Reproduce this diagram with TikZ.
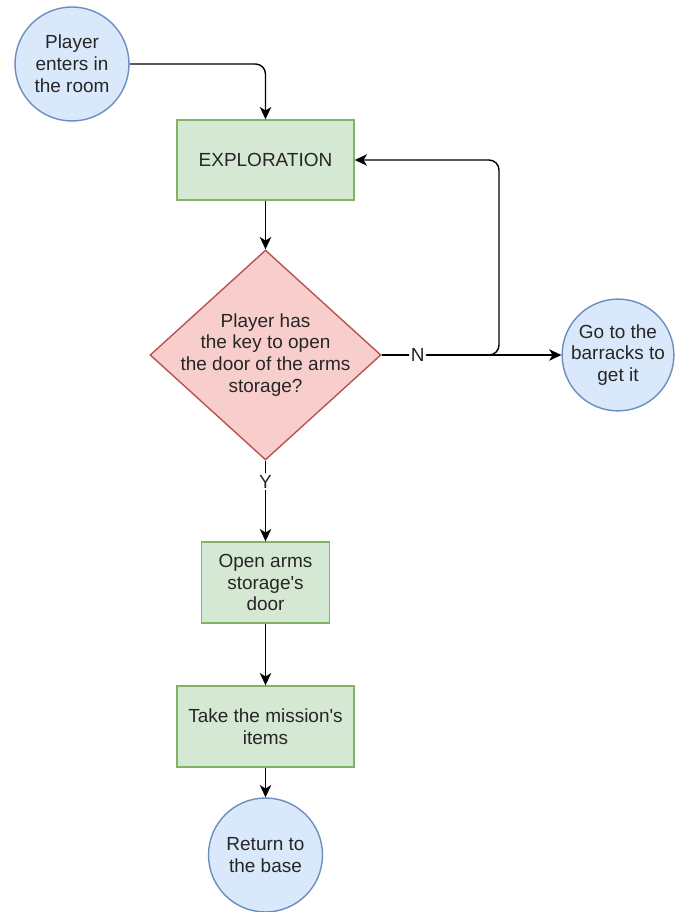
\documentclass[tikz,border=0pt]{standalone}
\usepackage{fontspec}
\setmainfont{Liberation Sans}
\usetikzlibrary{arrows.meta,shapes.geometric}

\definecolor{stepfill}{HTML}{D5E8D4}
\definecolor{stepline}{HTML}{82B366}
\definecolor{askfill}{HTML}{F8CECC}
\definecolor{askline}{HTML}{B85450}
\definecolor{endfill}{HTML}{DAE8FC}
\definecolor{endline}{HTML}{6C8EBF}

\tikzset{
    txt/.style={font=\fontsize{10.8}{12.45}\selectfont, text=black!85, align=center},
    stepbox/.style={txt, rectangle, draw=stepline, fill=stepfill, line width=0.8pt, inner sep=0pt},
    askbox/.style={txt, diamond, draw=askline, fill=askfill, line width=0.8pt, inner sep=-0.185cm, aspect=1.1,
                   minimum width=4.62cm, minimum height=4.2cm},
    endpoint/.style={txt, circle, draw=endline, fill=endfill, line width=0.8pt, inner sep=0pt},
    answer/.style={txt, fill=white, inner sep=1pt},
    link/.style={->, rounded corners=0.2cm}
}

\begin{document}
\begin{tikzpicture}[x=0.02cm, y=-0.02cm, >={Stealth[length=7pt, width=6.5pt, inset=2pt]}, line width=0.8pt]
    \useasboundingbox (0,0) rectangle (686,912);

    \node[endpoint, minimum size=2.28cm] (enter)    at (72,64)   {Player\\enters in\\the room};
    \node[stepbox, minimum width=3.54cm, minimum height=1.6cm] (explore) at (265.5,160) {EXPLORATION};
    \node[askbox]                        (haskey)   at (265.5,355) {Player has\\the key to open\\the door of the arms\\storage?};
    \node[endpoint, minimum size=2.16cm] (barracks) at (618,355) {Go to the\\barracks to\\get it};
    \node[stepbox, minimum width=2.56cm, minimum height=1.62cm] (open) at (265.5,582.5) {Open arms\\storage\textquotesingle s\\door};
    \node[stepbox, minimum width=3.54cm, minimum height=1.62cm] (take) at (265.5,726.5) {Take the mission\textquotesingle s\\items};
    \node[endpoint, minimum size=2.28cm] (base)     at (265.5,855) {Return to\\the base};

    \coordinate (back) at (499,160);

    \draw[link] (enter) -| (explore);
    \draw[link] (explore) -- (haskey);
    \draw[link] (haskey.east) -| (back) -- (explore.east);
    \draw[link] (haskey.east) -- node[answer, pos=0.2] {N} (barracks);
    \draw[link] (haskey.south) -- node[answer, pos=0.26] {Y} (open);
    \draw[link] (open) -- (take);
    \draw[link] (take) -- (base);
\end{tikzpicture}
\end{document}
